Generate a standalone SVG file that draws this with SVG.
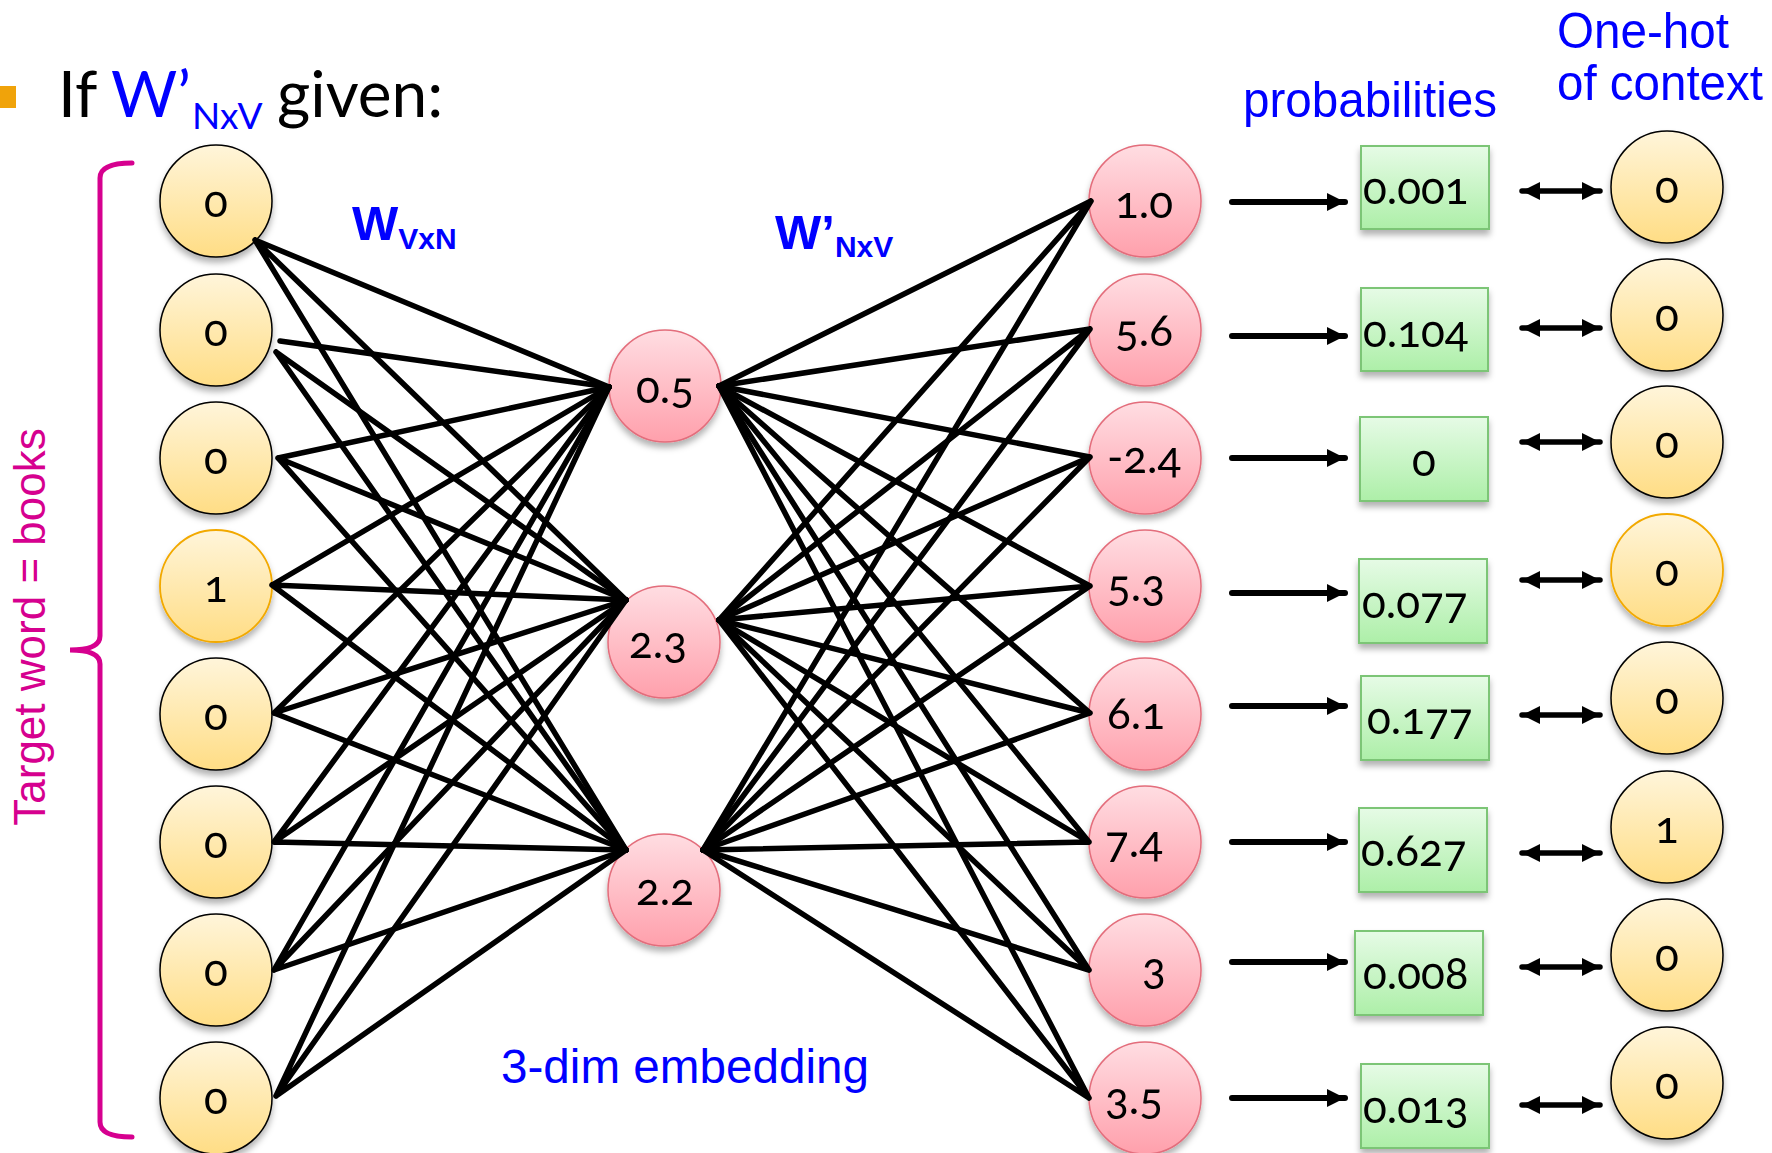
<svg xmlns="http://www.w3.org/2000/svg" width="1772" height="1153" viewBox="0 0 1772 1153">
<defs>
<linearGradient id="gy" x1="0" y1="0" x2="0" y2="1"><stop offset="0" stop-color="#FFF5DA"/><stop offset="1" stop-color="#FFDD85"/></linearGradient>
<linearGradient id="gp" x1="0" y1="0" x2="0" y2="1"><stop offset="0" stop-color="#FFDDE2"/><stop offset="1" stop-color="#FFA0AC"/></linearGradient>
<linearGradient id="gg" x1="0" y1="0" x2="0" y2="1"><stop offset="0" stop-color="#E6FBE6"/><stop offset="1" stop-color="#ADEFA8"/></linearGradient>
<filter id="sh" x="-20%" y="-20%" width="140%" height="150%"><feDropShadow dx="0" dy="5" stdDeviation="3" flood-color="#000" flood-opacity="0.3"/></filter>
<marker id="ah" markerUnits="userSpaceOnUse" markerWidth="20" markerHeight="20" refX="18" refY="9" orient="auto-start-reverse" viewBox="0 0 20 20"><path d="M0,0 L18,9 L0,18 Z" fill="#000"/></marker>
</defs>
<style>
.yn{fill:url(#gy);stroke:#000;stroke-width:1.5}
.yo{fill:url(#gy);stroke:#F2A900;stroke-width:1.8}
.pn{fill:url(#gp);stroke:#E36D7B;stroke-width:1.5}
.bx{fill:url(#gg);stroke:#7CC576;stroke-width:2}
.num{font-family:Lato,"Open Sans","Liberation Sans",sans-serif;font-size:44px;fill:#000;font-variant-numeric:oldstyle-nums;font-feature-settings:"onum" 1}
.c{text-anchor:middle}
.ln{stroke:#000;stroke-width:5.5;stroke-linecap:round;fill:none}
.ar{stroke:#000;stroke-width:6;stroke-linecap:round;fill:none}
.blue{fill:#0000FF;font-family:"Liberation Sans",Arial,sans-serif}
.shd{filter:url(#sh)}
</style>
<rect width="1772" height="1153" fill="#fff"/>

<!-- title -->
<rect x="-6" y="86" width="22" height="22" fill="#F0A30A"/>
<text font-family="Lato,'Open Sans',sans-serif" font-size="64" y="117"><tspan x="58" fill="#000">If</tspan><tspan x="111" fill="#0000FF">W’</tspan><tspan x="192" y="129" font-size="37" fill="#0000FF">NxV</tspan><tspan x="277" y="117" fill="#000">given:</tspan></text>

<!-- bracket and side label -->
<path d="M132,163 Q100,163 100,178 L100,636 Q100,650 70,650 Q100,650 100,664 L100,1122 Q100,1137 132,1137" fill="none" stroke="#D6008F" stroke-width="5" stroke-linecap="round"/>
<text transform="translate(45,627) rotate(-90)" text-anchor="middle" font-family="'Liberation Sans',Arial,sans-serif" font-size="44" fill="#D6008F">Target word = books</text>

<!-- labels -->
<text class="blue" font-weight="bold" font-size="49" x="352" y="240">W<tspan font-size="30" y="249">VxN</tspan></text>
<text class="blue" font-weight="bold" font-size="49" x="775" y="249">W’<tspan font-size="30" y="257">NxV</tspan></text>
<text class="blue" font-size="50" x="1243" y="117" textLength="254" lengthAdjust="spacingAndGlyphs">probabilities</text>
<text class="blue" font-size="50" x="1557" y="48" textLength="172" lengthAdjust="spacingAndGlyphs">One-hot</text>
<text class="blue" font-size="50" x="1557" y="100" textLength="206" lengthAdjust="spacingAndGlyphs">of context</text>
<text class="blue" font-size="48" x="501" y="1083" textLength="368" lengthAdjust="spacingAndGlyphs">3-dim embedding</text>

<!-- input nodes -->
<g id="in1" class="shd"><circle class="yn" cx="216" cy="201" r="56"/><text class="num c" x="216" y="217">0</text></g>
<g id="in2" class="shd"><circle class="yn" cx="216" cy="330" r="56"/><text class="num c" x="216" y="346">0</text></g>
<g id="in3" class="shd"><circle class="yn" cx="216" cy="458" r="56"/><text class="num c" x="216" y="474">0</text></g>
<g id="in4" class="shd"><circle class="yo" cx="216" cy="586" r="56"/><text class="num c" x="216" y="602">1</text></g>
<g id="in5" class="shd"><circle class="yn" cx="216" cy="714" r="56"/><text class="num c" x="216" y="730">0</text></g>
<g id="in6" class="shd"><circle class="yn" cx="216" cy="842" r="56"/><text class="num c" x="216" y="858">0</text></g>
<g id="in7" class="shd"><circle class="yn" cx="216" cy="970" r="56"/><text class="num c" x="216" y="986">0</text></g>
<g id="in8" class="shd"><circle class="yn" cx="216" cy="1098" r="56"/><text class="num c" x="216" y="1114">0</text></g>

<!-- hidden nodes -->
<g id="h1" class="shd"><circle class="pn" cx="665" cy="386" r="56"/><text class="num" x="636" y="403">0.5</text></g>
<g id="h2" class="shd"><circle class="pn" cx="664" cy="642" r="56"/><text class="num" x="629" y="658">2.3</text></g>
<g id="h3" class="shd"><circle class="pn" cx="664" cy="890" r="56"/><text class="num" x="636" y="905">2.2</text></g>

<!-- output nodes -->
<g id="o1" class="shd"><circle class="pn" cx="1145" cy="201" r="56"/><text class="num" x="1115" y="218">1.0</text></g>
<g id="o2" class="shd"><circle class="pn" cx="1145" cy="330" r="56"/><text class="num" x="1115" y="346">5.6</text></g>
<g id="o3" class="shd"><circle class="pn" cx="1145" cy="458" r="56"/><text class="num" x="1107" y="473">-2.4</text></g>
<g id="o4" class="shd"><circle class="pn" cx="1145" cy="586" r="56"/><text class="num" x="1107" y="601">5.3</text></g>
<g id="o5" class="shd"><circle class="pn" cx="1145" cy="714" r="56"/><text class="num" x="1107" y="729">6.1</text></g>
<g id="o6" class="shd"><circle class="pn" cx="1145" cy="842" r="56"/><text class="num" x="1105" y="857">7.4</text></g>
<g id="o7" class="shd"><circle class="pn" cx="1145" cy="970" r="56"/><text class="num" x="1142" y="984">3</text></g>
<g id="o8" class="shd"><circle class="pn" cx="1145" cy="1098" r="56"/><text class="num" x="1105" y="1114">3.5</text></g>

<!-- probability boxes -->
<g id="p1" class="shd"><rect class="bx" x="1361" y="146" width="128" height="83"/><text class="num" x="1363" y="204">0.001</text></g>
<g id="p2" class="shd"><rect class="bx" x="1361" y="288" width="127" height="83"/><text class="num" x="1363" y="347">0.104</text></g>
<g id="p3" class="shd"><rect class="bx" x="1360" y="417" width="128" height="84"/><text class="num c" x="1424" y="476">0</text></g>
<g id="p4" class="shd"><rect class="bx" x="1359" y="559" width="128" height="84"/><text class="num" x="1362" y="618">0.077</text></g>
<g id="p5" class="shd"><rect class="bx" x="1361" y="676" width="128" height="84"/><text class="num" x="1367" y="734">0.177</text></g>
<g id="p6" class="shd"><rect class="bx" x="1359" y="808" width="128" height="84"/><text class="num" x="1361" y="866">0.627</text></g>
<g id="p7" class="shd"><rect class="bx" x="1355" y="931" width="128" height="84"/><text class="num" x="1363" y="989">0.008</text></g>
<g id="p8" class="shd"><rect class="bx" x="1361" y="1064" width="128" height="84"/><text class="num" x="1363" y="1123">0.013</text></g>

<!-- one-hot nodes -->
<g id="c1" class="shd"><circle class="yn" cx="1667" cy="187" r="56"/><text class="num c" x="1667" y="203">0</text></g>
<g id="c2" class="shd"><circle class="yn" cx="1667" cy="315" r="56"/><text class="num c" x="1667" y="331">0</text></g>
<g id="c3" class="shd"><circle class="yn" cx="1667" cy="442" r="56"/><text class="num c" x="1667" y="458">0</text></g>
<g id="c4" class="shd"><circle class="yo" cx="1667" cy="570" r="56"/><text class="num c" x="1667" y="586">0</text></g>
<g id="c5" class="shd"><circle class="yn" cx="1667" cy="698" r="56"/><text class="num c" x="1667" y="714">0</text></g>
<g id="c6" class="shd"><circle class="yn" cx="1667" cy="827" r="56"/><text class="num c" x="1667" y="843">1</text></g>
<g id="c7" class="shd"><circle class="yn" cx="1667" cy="955" r="56"/><text class="num c" x="1667" y="971">0</text></g>
<g id="c8" class="shd"><circle class="yn" cx="1667" cy="1083" r="56"/><text class="num c" x="1667" y="1099">0</text></g>

<!-- connectors -->
<g id="connectors">
<g class="ln">
<path d="M255,240 L609,387 M255,240 L626,600 M255,240 L626,850"/>
<path d="M280,341 L609,387 M276,352 L626,600 M276,352 L626,850"/>
<path d="M278,458 L609,387 M278,458 L626,600 M278,458 L626,850"/>
<path d="M272,585 L609,387 M272,585 L626,600 M272,585 L626,850"/>
<path d="M274,713 L609,387 M274,713 L626,600 M274,713 L626,850"/>
<path d="M274,842 L609,387 M274,842 L626,600 M274,842 L626,850"/>
<path d="M274,970 L609,387 M274,970 L626,600 M274,970 L626,850"/>
<path d="M276,1096 L609,387 M276,1096 L626,600 M276,1096 L626,850"/>
<path d="M719,386 L1091,201 M719,620 L1091,201 M703,850 L1091,201"/>
<path d="M719,386 L1090,329 M719,620 L1090,329 M703,850 L1090,329"/>
<path d="M719,386 L1090,457 M719,620 L1090,457 M703,850 L1090,457"/>
<path d="M719,386 L1090,586 M719,620 L1090,586 M703,850 L1090,586"/>
<path d="M719,386 L1090,713 M719,620 L1090,713 M703,850 L1090,713"/>
<path d="M719,386 L1089,842 M719,620 L1089,842 M703,850 L1089,842"/>
<path d="M719,386 L1089,970 M719,620 L1089,970 M703,850 L1089,970"/>
<path d="M719,386 L1089,1098 M719,620 L1089,1098 M703,850 L1089,1098"/>
</g>
<g class="ar">
<path d="M1232,202 L1345,202" marker-end="url(#ah)"/>
<path d="M1232,336 L1345,336" marker-end="url(#ah)"/>
<path d="M1232,458 L1345,458" marker-end="url(#ah)"/>
<path d="M1232,593 L1345,593" marker-end="url(#ah)"/>
<path d="M1232,706 L1345,706" marker-end="url(#ah)"/>
<path d="M1232,842 L1345,842" marker-end="url(#ah)"/>
<path d="M1232,962 L1345,962" marker-end="url(#ah)"/>
<path d="M1232,1098 L1345,1098" marker-end="url(#ah)"/>
</g>
<g class="ar" style="stroke-width:5.5">
<path d="M1522,191 L1600,191" marker-start="url(#ah)" marker-end="url(#ah)"/>
<path d="M1522,328 L1600,328" marker-start="url(#ah)" marker-end="url(#ah)"/>
<path d="M1522,442 L1600,442" marker-start="url(#ah)" marker-end="url(#ah)"/>
<path d="M1522,580 L1600,580" marker-start="url(#ah)" marker-end="url(#ah)"/>
<path d="M1522,715 L1600,715" marker-start="url(#ah)" marker-end="url(#ah)"/>
<path d="M1522,853 L1600,853" marker-start="url(#ah)" marker-end="url(#ah)"/>
<path d="M1522,967 L1600,967" marker-start="url(#ah)" marker-end="url(#ah)"/>
<path d="M1522,1105 L1600,1105" marker-start="url(#ah)" marker-end="url(#ah)"/>
</g>
</g>
</svg>
